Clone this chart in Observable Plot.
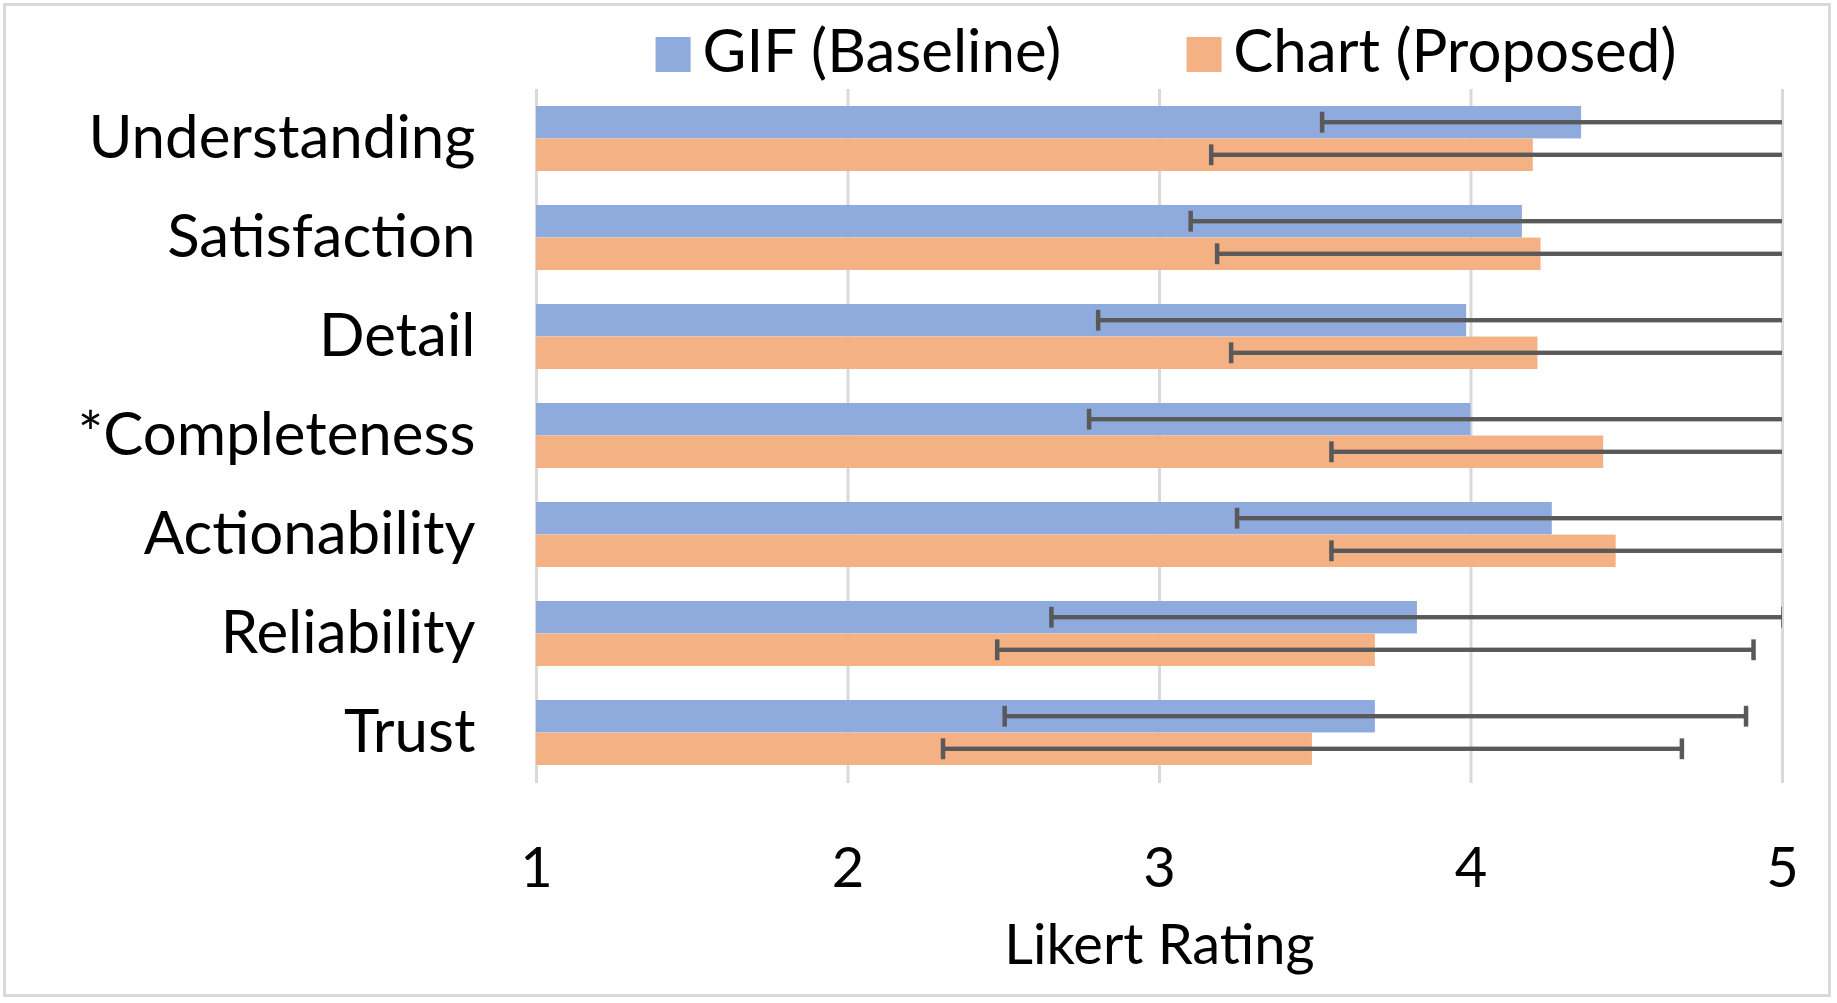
<!DOCTYPE html>
<html>
<head>
<meta charset="utf-8">
<script src="https://cdn.jsdelivr.net/npm/d3@7"></script>
<script src="https://cdn.jsdelivr.net/npm/@observablehq/plot@0.6"></script>
<style>
  html, body { margin: 0; padding: 0; background: #fff; overflow: hidden; }
  #wrap { position: relative; width: 1837px; height: 1003px; font-family: Lato, "Noto Sans", sans-serif; color: #000; }
  #border { position: absolute; left: 3px; top: 3px; width: 1828px; height: 994px; box-sizing: border-box; border: 3px solid #D9D9D9; pointer-events: none; }
  #legend { position: absolute; left: 1166px; top: 19px; transform: translateX(-50%); display: flex; align-items: flex-start; white-space: nowrap; }
  .item { display: flex; align-items: flex-start; }
  .item + .item { margin-left: 125px; }
  .sw { width: 35px; height: 35px; margin-top: 18px; margin-right: 12px; }
  .lab { font-size: 60px; line-height: 60px; }
  #chart svg { position: absolute; left: 0; top: 0; }
  #chart svg text { fill: #000; }
  [aria-label^="x-axis"] text { font-size: 56px; }
  [aria-label^="y-axis"] text { font-size: 60px; }
</style>
</head>
<body>
<div id="wrap">
  <div id="chart"></div>
  <div id="border"></div>
  <div id="legend"></div>
</div>
<script>
// ---- data ----
const categories = ["Understanding", "Satisfaction", "Detail", "*Completeness", "Actionability", "Reliability", "Trust"];
const series = ["GIF (Baseline)", "Chart (Proposed)"];
const gifMean = [4.355, 4.165, 3.986, 4.00, 4.261, 3.828, 3.693];
const gifSD = [0.833, 1.065, 1.183, 1.226, 1.012, 1.175, 1.19];
const chartMean = [4.20, 4.225, 4.215, 4.426, 4.466, 3.693, 3.491];
const chartSD = [1.034, 1.04, 0.985, 0.874, 0.914, 1.214, 1.186];
const xTicks = [1, 2, 3, 4, 5];
const xDomain = [1, 5];
const xLabel = "Likert Rating";
const colors = ["#8FAADC", "#F4B183"];

// ---- table ----
const rows = [];
categories.forEach((c, i) => {
  rows.push({category: c, series: series[0], mean: gifMean[i], lo: gifMean[i] - gifSD[i], hi: gifMean[i] + gifSD[i]});
  rows.push({category: c, series: series[1], mean: chartMean[i], lo: chartMean[i] - chartSD[i], hi: chartMean[i] + chartSD[i]});
});
const gifRows = rows.filter(d => d.series === series[0]);
const chartRows = rows.filter(d => d.series === series[1]);

// ---- layout ----
const W = 1837, H = 1003;
const mL = 536, mR = 55, mT = 89, mB = 220;
const pIn = 0.343, pOut = 0.171;
const step = (H - mT - mB) / (categories.length - pIn + 2 * pOut);
const bw = step * (1 - pIn);
const half = bw / 2;
const errW = 4.5, capH = 21;
const ebColor = "#595959";

function errMarks(data, center) {
  return [
    Plot.barX(data, {y: "category", x1: "lo", x2: "hi", fill: ebColor,
      insetTop: center - errW / 2, insetBottom: bw - center - errW / 2, clip: true}),
    Plot.tickX(data, {y: "category", x: "lo", stroke: ebColor, strokeWidth: errW,
      insetTop: center - capH / 2, insetBottom: bw - center - capH / 2, clip: true}),
    Plot.tickX(data, {y: "category", x: "hi", stroke: ebColor, strokeWidth: errW,
      insetTop: center - capH / 2, insetBottom: bw - center - capH / 2, clip: true})
  ];
}

const chart = Plot.plot({
  width: W, height: H,
  marginLeft: mL, marginRight: mR, marginTop: mT, marginBottom: mB,
  style: {fontFamily: "Lato, 'Noto Sans', sans-serif", background: "transparent", color: "#000"},
  x: {domain: xDomain, ticks: xTicks, tickFormat: d => String(d), tickSize: 0, tickPadding: 64, label: null},
  y: {domain: categories, paddingInner: pIn, paddingOuter: pOut, tickSize: 0, tickPadding: 61, label: null},
  marks: [
    Plot.ruleX(xTicks, {stroke: "#D9D9D9", strokeWidth: 3}),
    Plot.barX(gifRows, {y: "category", x1: xDomain[0], x2: "mean", fill: colors[0], insetBottom: half}),
    Plot.barX(chartRows, {y: "category", x1: xDomain[0], x2: "mean", fill: colors[1], insetTop: half}),
    ...errMarks(gifRows, bw / 4),
    ...errMarks(chartRows, 3 * bw / 4),
    Plot.text([xLabel], {frameAnchor: "bottom", lineAnchor: "bottom", dy: 180, fontSize: 56, fill: "#000"})
  ]
});
document.getElementById("chart").appendChild(chart);

// ---- legend ----
const legend = document.getElementById("legend");
series.forEach((s, i) => {
  const item = document.createElement("div");
  item.className = "item";
  const sw = document.createElement("div");
  sw.className = "sw";
  sw.style.background = colors[i];
  const lab = document.createElement("div");
  lab.className = "lab";
  lab.textContent = s;
  item.appendChild(sw);
  item.appendChild(lab);
  legend.appendChild(item);
});
</script>
</body>
</html>
